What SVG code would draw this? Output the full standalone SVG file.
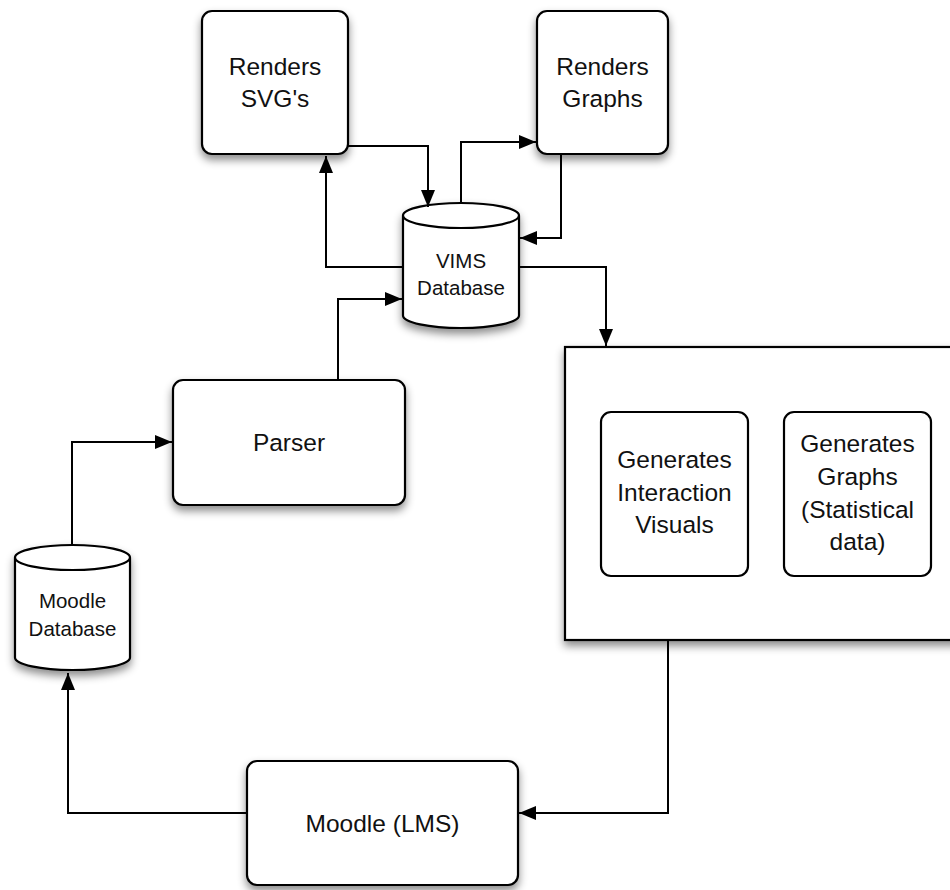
<svg xmlns="http://www.w3.org/2000/svg" width="950" height="890" viewBox="0 0 950 890">
<defs>
<filter id="sh" x="-20%" y="-20%" width="140%" height="150%">
<feDropShadow dx="0" dy="5" stdDeviation="4" flood-color="#000" flood-opacity="0.45"/>
</filter>
<marker id="ah" markerUnits="userSpaceOnUse" markerWidth="17" markerHeight="14" viewBox="0 0 17 14" refX="17" refY="7" orient="auto">
<path d="M0,0 L17,7 L0,14 z" fill="#000"/>
</marker>
<style>
.box{fill:#fff;stroke:#000;stroke-width:2.2}
.cn{fill:none;stroke:#000;stroke-width:2;marker-end:url(#ah)}
.t{font-family:"Liberation Sans",Arial,sans-serif;font-size:24.5px;fill:#111;text-anchor:middle}
.s{font-family:"Liberation Sans",Arial,sans-serif;font-size:20.5px;fill:#111;text-anchor:middle}
</style>
</defs>
<rect width="950" height="890" fill="#fff"/>
<g id="renders-svgs">
<rect class="box" x="202" y="11" width="146" height="143" rx="10" filter="url(#sh)"/>
<text class="t" x="275" y="75">Renders</text>
<text class="t" x="275" y="107">SVG's</text>
</g>
<g id="renders-graphs">
<rect class="box" x="537" y="11" width="131" height="143" rx="10" filter="url(#sh)"/>
<text class="t" x="602.5" y="75">Renders</text>
<text class="t" x="602.5" y="107">Graphs</text>
</g>
<g id="vims-db">
<path class="box" filter="url(#sh)" d="M403,215.5 A58,12.5 0 0 1 519,215.5 V315.5 A58,12.5 0 0 1 403,315.5 Z"/>
<path d="M403,215.5 A58,12.5 0 0 0 519,215.5" fill="none" stroke="#000" stroke-width="2.2"/>
<text class="s" x="461" y="268">VIMS</text>
<text class="s" x="461" y="295">Database</text>
</g>
<g id="parser">
<rect class="box" x="173" y="380" width="232" height="125" rx="10" filter="url(#sh)"/>
<text class="t" x="289" y="451">Parser</text>
</g>
<g id="moodle-db">
<path class="box" filter="url(#sh)" d="M15,557.5 A57.5,12.5 0 0 1 130,557.5 V657.5 A57.5,12.5 0 0 1 15,657.5 Z"/>
<path d="M15,557.5 A57.5,12.5 0 0 0 130,557.5" fill="none" stroke="#000" stroke-width="2.2"/>
<text class="s" x="72.5" y="608">Moodle</text>
<text class="s" x="72.5" y="636">Database</text>
</g>
<g id="generator">
<rect class="box" x="565" y="347" width="400" height="293" filter="url(#sh)"/>
</g>
<g id="gen-interaction">
<rect class="box" x="601" y="412" width="147" height="164" rx="10" stroke-width="2"/>
<text class="t" x="674.5" y="468">Generates</text>
<text class="t" x="674.5" y="501">Interaction</text>
<text class="t" x="674.5" y="533">Visuals</text>
</g>
<g id="gen-graphs">
<rect class="box" x="784" y="412" width="147" height="164" rx="10" stroke-width="2"/>
<text class="t" x="857.5" y="452">Generates</text>
<text class="t" x="857.5" y="485">Graphs</text>
<text class="t" x="857.5" y="518">(Statistical</text>
<text class="t" x="857.5" y="550">data)</text>
</g>
<g id="moodle-lms">
<rect class="box" x="247" y="761" width="271" height="124" rx="10" filter="url(#sh)"/>
<text class="t" x="382.5" y="832">Moodle (LMS)</text>
</g>
<g id="connectors">
<path class="cn" d="M348,146 H428 V207"/>
<path class="cn" d="M403,267 H326 V156"/>
<path class="cn" d="M461,203 V142 H536"/>
<path class="cn" d="M561,154 V238 H520"/>
<path class="cn" d="M519,267 H606 V346"/>
<path class="cn" d="M338,380 V299 H402"/>
<path class="cn" d="M72,545 V442 H172"/>
<path class="cn" d="M247,813 H68 V673"/>
<path class="cn" d="M668,640 V813 H519"/>
</g>
</svg>
